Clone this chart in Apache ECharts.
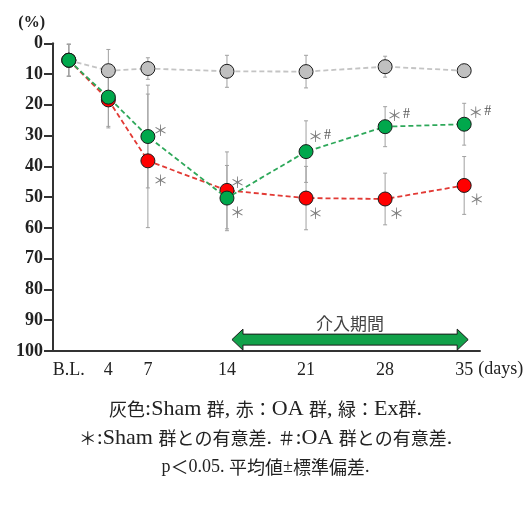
<!DOCTYPE html>
<html>
<head>
<meta charset="utf-8">
<script src="https://cdn.jsdelivr.net/npm/echarts@6/dist/echarts.min.js"></script>
<style>
  html, body { margin: 0; padding: 0; background: #fff; }
  #chart { width: 531px; height: 505px; }
</style>
</head>
<body>
<div id="chart"></div>
<script>
// Time points (days after induction) and their ordinal positions on the x axis
const dayLabels = ['B.L.', '4', '7', '14', '21', '28', '35'];
const dayPos = [0, 1, 2, 4, 6, 8, 10];

// Mean and SD (%) per group
const shamMean = [5.5, 8.9, 8.2, 9.1, 9.2, 7.6, 8.9];
const shamSD   = [5.2, 6.9, 3.5, 5.2, 5.3, 3.4, 2.0];
const oaMean   = [5.5, 18.4, 38.2, 47.8, 50.3, 50.6, 46.2];
const oaSD     = [5.2, 9.1, 21.7, 12.5, 10.3, 8.4, 9.4];
const exMean   = [5.5, 17.5, 30.3, 50.3, 35.2, 27.1, 26.3];
const exSD     = [5.2, 9.5, 16.7, 10.6, 10.0, 6.5, 6.8];

// Significance marks: ＊ vs Sham, # vs OA
const oaMarks = ['', '', '＊', '＊', '＊', '＊', '＊'];
const exMarks = ['', '', '＊', '＊', '＊#', '＊#', '＊#'];

// Y axis ticks
const yTicks = { min: 0, max: 100, interval: 10 };

// Caption lines under the chart
const captionLines = [
  '灰色:Sham 群, 赤：OA 群, 緑：Ex群.',
  '＊:Sham 群との有意差. ＃:OA 群との有意差.',
  'p＜0.05. 平均値±標準偏差.'
];

// Where each significance mark sits relative to its point (px)
const oaMarkOffset = [null, null, [5, 19], [3, -8], [2, 15], [4, 14], [5, 14]];
const exMarkOffset = [null, null, [5, -6], [3, 14], [2, -15], [2, -11], [4, -12]];

const SERIF = '"Liberation Serif", "Times New Roman", "Noto Sans CJK JP", serif';
const CJK = '"Noto Sans CJK JP", sans-serif';

function lineData(mean, marks, offsets) {
  return mean.map((v, i) => {
    const item = { value: [dayPos[i], v] };
    if (marks[i]) {
      item.label = {
        show: true,
        position: 'inside',
        align: 'left',
        verticalAlign: 'middle',
        offset: offsets[i],
        formatter: marks[i].replace('＊', '{a|＊}').replace('#', '{b|#}'),
        rich: {
          a: { fontFamily: CJK, fontSize: 15, color: '#808080' },
          b: { fontFamily: SERIF, fontSize: 14, color: '#555', padding: [0, 0, 2, 1] }
        }
      };
    }
    return item;
  });
}

function barData(mean, sd) {
  return mean.map((v, i) => [dayPos[i], v - sd[i], v + sd[i]]);
}

function errorBars(name, mean, sd) {
  return {
    type: 'custom',
    name: name + ' SD',
    z: 1,
    silent: true,
    data: barData(mean, sd),
    encode: { x: 0, y: [1, 2] },
    renderItem: function (params, api) {
      const x = api.value(0);
      const lo = api.coord([x, Math.max(0, api.value(1))]);
      const hi = api.coord([x, api.value(2)]);
      const cap = 2;
      const style = { stroke: '#a0a0a0', lineWidth: 1 };
      return {
        type: 'group',
        children: [
          { type: 'line', shape: { x1: lo[0], y1: lo[1], x2: hi[0], y2: hi[1] }, style },
          { type: 'line', shape: { x1: lo[0] - cap, y1: lo[1], x2: lo[0] + cap, y2: lo[1] }, style },
          { type: 'line', shape: { x1: hi[0] - cap, y1: hi[1], x2: hi[0] + cap, y2: hi[1] }, style }
        ]
      };
    }
  };
}

function lineSeries(name, mean, marks, offsets, lineColor, fill, z) {
  return {
    type: 'line',
    name,
    z,
    data: lineData(mean, marks, offsets),
    symbol: 'circle',
    symbolSize: 14,
    lineStyle: { color: lineColor, width: 1.8, type: [5, 3] },
    itemStyle: { color: fill, borderColor: '#1a1a1a', borderWidth: 1 },
    emphasis: { disabled: true },
    animation: false
  };
}

// Mixed-script caption: Latin runs (and ±) in the serif face, Japanese runs in the CJK face
function richCaption(text) {
  const parts = text.match(/[\x20-\x7e±]+|[^\x20-\x7e±]+/g) || [];
  return parts.map(p => (/^[\x20-\x7e±]+$/.test(p) ? '{l|' : '{c|') + p + '}').join('');
}

const chart = echarts.init(document.getElementById('chart'), null, { renderer: 'canvas' });

chart.setOption({
  animation: false,
  backgroundColor: '#fff',
  grid: { left: 53, right: 51, top: 43.3, bottom: 154, containLabel: false },
  xAxis: {
    type: 'value',
    min: -0.4,
    max: 10.4,
    splitLine: { show: false },
    axisLine: { onZero: false, lineStyle: { color: '#333', width: 2 } },
    axisTick: { show: false },
    axisLabel: {
      customValues: dayPos,
      formatter: function (v) { return dayLabels[dayPos.indexOf(v)]; },
      fontFamily: SERIF,
      fontSize: 18,
      color: '#222',
      margin: 10
    }
  },
  yAxis: {
    type: 'value',
    inverse: true,
    min: yTicks.min,
    max: yTicks.max,
    interval: yTicks.interval,
    splitLine: { show: false },
    axisLine: { show: true, onZero: false, lineStyle: { color: '#333', width: 2 } },
    axisTick: { show: true, length: 9, lineStyle: { color: '#333', width: 2 } },
    axisLabel: {
      fontFamily: SERIF,
      fontSize: 18,
      fontWeight: 'bold',
      color: '#222',
      margin: 10
    },
    name: '(%)',
    nameLocation: 'start',
    nameGap: 12,
    nameTextStyle: {
      fontFamily: SERIF, fontSize: 16, fontWeight: 'bold', color: '#222',
      align: 'right', padding: [0, 8, 0, 0]
    }
  },
  series: [
    errorBars('Sham', shamMean, shamSD),
    errorBars('OA', oaMean, oaSD),
    errorBars('Ex', exMean, exSD),
    lineSeries('Sham', shamMean, ['', '', '', '', '', '', ''], [], '#c4c4c4', '#c0c0c0', 3),
    lineSeries('OA', oaMean, oaMarks, oaMarkOffset, '#e23a35', '#ff0000', 4),
    lineSeries('Ex', exMean, exMarks, exMarkOffset, '#2ea85a', '#00a84c', 5)
  ]
});

// Intervention period arrow spanning day 14 to day 35, unit label, and caption text
const xStart = chart.convertToPixel({ xAxisIndex: 0 }, dayPos[3]) + 5;
const xEnd = chart.convertToPixel({ xAxisIndex: 0 }, dayPos[6]) + 4;
const yMid = chart.convertToPixel({ yAxisIndex: 0 }, 96.3);
const yAxisBottom = chart.convertToPixel({ yAxisIndex: 0 }, yTicks.max);
const head = 11, halfHead = 10.5, halfShaft = 5.5;
const arrowPts = [
  [xStart, yMid],
  [xStart + head, yMid - halfHead],
  [xStart + head, yMid - halfShaft],
  [xEnd - head, yMid - halfShaft],
  [xEnd - head, yMid - halfHead],
  [xEnd, yMid],
  [xEnd - head, yMid + halfHead],
  [xEnd - head, yMid + halfShaft],
  [xStart + head, yMid + halfShaft],
  [xStart + head, yMid + halfHead]
];

const captionSizes = [22, 22, 18];
const captionY = [409, 438, 467];

chart.setOption({
  graphic: [
    {
      type: 'polygon',
      shape: { points: arrowPts },
      style: { fill: '#12a14a', stroke: '#1a1a1a', lineWidth: 1 },
      z: 10
    },
    {
      type: 'text',
      x: (xStart + xEnd) / 2,
      y: yMid - 16,
      style: { text: '介入期間', fontFamily: CJK, fontSize: 17, fill: '#444', align: 'center', verticalAlign: 'middle' },
      z: 10
    },
    {
      type: 'text',
      x: xEnd + 10,
      y: yAxisBottom + 18,
      style: { text: '(days)', fontFamily: SERIF, fontSize: 18, fill: '#222', align: 'left', verticalAlign: 'middle' },
      z: 10
    }
  ].concat(captionLines.map((t, i) => ({
    type: 'text',
    x: 265.5,
    y: captionY[i],
    style: {
      text: richCaption(t),
      align: 'center',
      verticalAlign: 'middle',
      rich: {
        l: { fontFamily: SERIF, fontSize: captionSizes[i], fill: '#222', verticalAlign: 'middle' },
        c: { fontFamily: CJK, fontSize: 18, fill: '#222', verticalAlign: 'middle' }
      }
    }
  })))
});
</script>
</body>
</html>
